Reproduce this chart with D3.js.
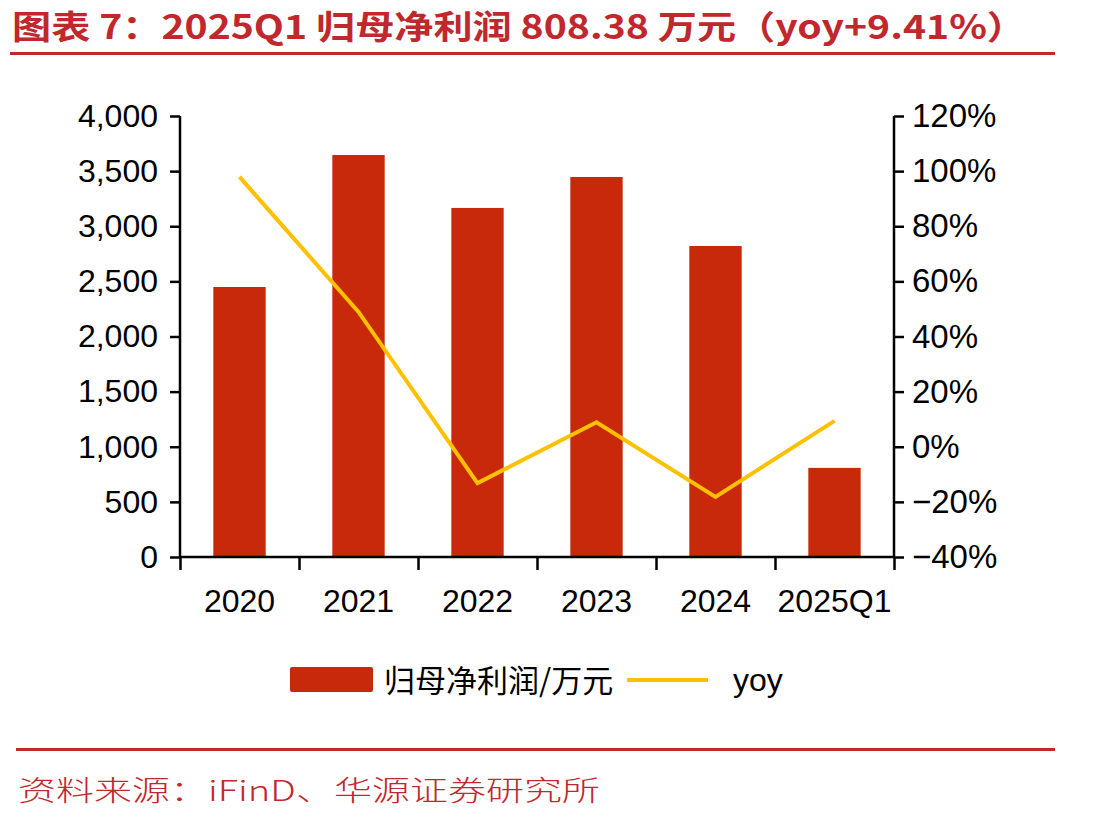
<!DOCTYPE html>
<html><head><meta charset="utf-8">
<script src="https://cdn.jsdelivr.net/npm/d3@7/dist/d3.min.js"></script>
<style>html,body{margin:0;padding:0;background:#fff;}</style>
</head><body>
<script>
const categories = ["2020","2021","2022","2023","2024","2025Q1"];
const profit = [2449, 3646, 3166, 3447, 2821, 808.38];
const yoy = [97.9, 48.9, -13.2, 8.9, -18.2, 9.41];
const leftTicks = [0,500,1000,1500,2000,2500,3000,3500,4000];
const rightTicks = [-40,-20,0,20,40,60,80,100,120];
const titleText = "图表 7：2025Q1 归母净利润 808.38 万元（yoy+9.41%）";
const sourceText = "资料来源：iFinD、华源证券研究所";
const legendLabels = ["归母净利润/万元","yoy"];

const W=1113,H=822;
const red="#C0282D", barColor="#C8290A", lineColor="#FFC000";
const svg=d3.select("body").append("svg").attr("width",W).attr("height",H);
svg.append("rect").attr("width",W).attr("height",H).attr("fill","#fff");

// title
svg.append("text").attr("x",12).attr("y",39).text(titleText)
  .attr("fill",red).attr("font-family","'Noto Sans CJK SC'").attr("font-weight","bold")
  .attr("font-size",33).attr("textLength",1014).attr("lengthAdjust","spacingAndGlyphs");
svg.append("line").attr("x1",10).attr("x2",1055).attr("y1",53.5).attr("y2",53.5)
  .attr("stroke",red).attr("stroke-width",3);

const L=180,R=894,T=116,B=557;
const x=d3.scaleBand().domain(categories).range([L,R]).paddingInner(0.56).paddingOuter(0.28);
const y=d3.scaleLinear().domain([0,4000]).range([B,T]);
const y2=d3.scaleLinear().domain([-40,120]).range([B,T]);

const font="'Liberation Sans', Arial, sans-serif";

svg.append("g").selectAll("rect").data(profit).join("rect")
  .attr("x",(d,i)=>x(categories[i])).attr("width",x.bandwidth())
  .attr("y",d=>y(d)).attr("height",d=>B-y(d)).attr("fill",barColor);

const line=d3.line().x((d,i)=>x(categories[i])+x.bandwidth()/2).y(d=>y2(d));
svg.append("path").datum(yoy).attr("d",line).attr("fill","none")
  .attr("stroke",lineColor).attr("stroke-width",4).attr("stroke-linejoin","miter");

// left axis
const gl=svg.append("g").attr("transform",`translate(${L},0)`)
  .call(d3.axisLeft(y).tickValues(leftTicks).tickSize(10).tickPadding(12).tickFormat(d3.format(",")));
// right axis
const gr=svg.append("g").attr("transform",`translate(${R},0)`)
  .call(d3.axisRight(y2).tickValues(rightTicks).tickSize(10).tickPadding(8).tickFormat(d=>(d<0?"\u2212"+Math.abs(d):d)+"%"));
// bottom axis
const xb=d3.scaleLinear().domain([0,6]).range([L,R]);
const gb=svg.append("g").attr("transform",`translate(0,${B})`)
  .call(d3.axisBottom(xb).tickValues([0,1,2,3,4,5,6]).tickSize(13).tickFormat(""));
svg.append("g").selectAll("text").data(categories).join("text")
  .attr("x",d=>x(d)+x.bandwidth()/2).attr("y",612).attr("text-anchor","middle")
  .attr("font-family",font).attr("font-size",32).attr("fill","#000").text(d=>d);

[gl,gr,gb].forEach(g=>{
  g.select(".domain").attr("stroke","#000").attr("stroke-width",2.5);
  g.selectAll(".tick line").attr("stroke","#000").attr("stroke-width",2.5);
  g.selectAll(".tick text").attr("font-family",font).attr("font-size",32).attr("fill","#000");
});
gr.selectAll(".tick text").attr("font-size",33);
gl.select(".domain").attr("d",`M0,${T}V${B}`);
gr.select(".domain").attr("d",`M0,${T}V${B}`);
gb.select(".domain").attr("d",`M${L},0H${R}`);

// legend
const lg=svg.append("g");
lg.append("rect").attr("x",290).attr("y",667).attr("width",83).attr("height",25).attr("rx",2).attr("fill",barColor);
lg.append("text").attr("x",384).attr("y",692).text(legendLabels[0])
  .attr("font-family","'Noto Sans CJK SC'").attr("font-size",31).attr("fill","#000");
lg.append("line").attr("x1",627).attr("x2",708).attr("y1",680).attr("y2",680)
  .attr("stroke",lineColor).attr("stroke-width",4);
lg.append("text").attr("x",733).attr("y",691).text(legendLabels[1])
  .attr("font-family",font).attr("font-size",32).attr("fill","#000");

// bottom rule and source
svg.append("line").attr("x1",16).attr("x2",1055).attr("y1",749.5).attr("y2",749.5)
  .attr("stroke",red).attr("stroke-width",3);
svg.append("text").attr("x",18).attr("y",801).text(sourceText)
  .attr("fill",red).attr("font-family","'Noto Sans CJK SC'").attr("font-weight",300)
  .attr("font-size",28).attr("textLength",582).attr("lengthAdjust","spacingAndGlyphs");
</script>
</body></html>
